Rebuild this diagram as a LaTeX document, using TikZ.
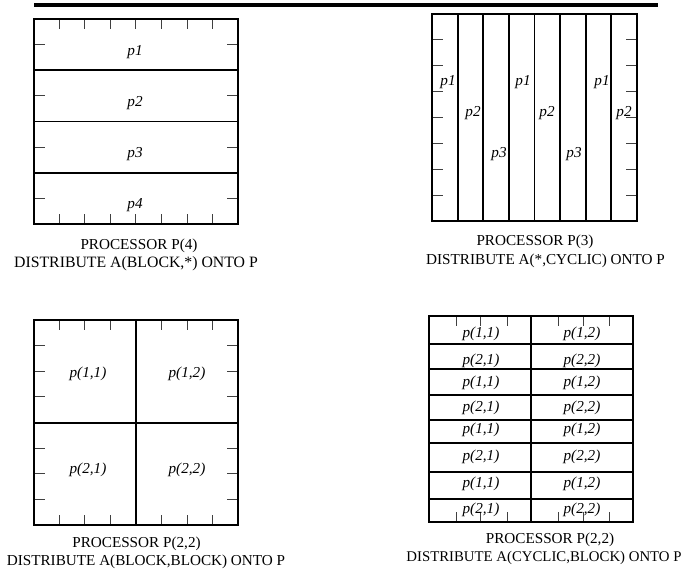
\documentclass[tikz,border=0pt]{standalone}
\usepackage{fontspec}
\setmainfont{Liberation Serif}
\begin{document}
\begin{tikzpicture}[x=1pt,y=-1pt,
  frame/.style={draw=black,line width=2pt},
  thickframe/.style={draw=black,line width=2.6pt},
  divline/.style={draw=black,line width=1.8pt},
  tick/.style={draw=black!75,line width=0.9pt},
  toprule/.style={draw=black,line width=3.2pt},
  lab/.style={font=\fontsize{15.2}{18}\selectfont\itshape,anchor=base,inner sep=0pt},
  captxt/.style={font=\fontsize{15.2}{18}\selectfont,anchor=base,inner sep=0pt}]
\useasboundingbox (0,0) rectangle (682,577);
% top rule
\coordinate (rl) at (34,5);
\coordinate (rr) at (658,5);
\draw[toprule] (rl) -- (rr);

% ===== Panel 1: BLOCK,* =====
\foreach \k in {1,...,7} {
  \draw[tick] ({33.5+\k*25.6},19) -- ++(0,10);
  \draw[tick] ({33.5+\k*25.6},224) -- ++(0,-10);
}
\foreach \j in {0,...,3} {
  \draw[tick] (33.5,{19+(2*\j+1)*25.6}) -- ++(11,0);
  \draw[tick] (238,{19+(2*\j+1)*25.6}) -- ++(-11,0);
}
\foreach \y in {70.2,121.5,172.8} \draw[divline] (33.5,\y) -- (238,\y);
\draw[frame] (33.5,19) rectangle (238,224);
\node[lab] (a1) at (135,56) {p1};
\node[lab] (a2) at (135,107) {p2};
\node[lab] (a3) at (135,158) {p3};
\node[lab] (a4) at (135,209) {p4};
\node[captxt] (ac1) at (139,249) {PROCESSOR P(4)};
\node[captxt,font=\fontsize{15.8}{18}\selectfont] (ac2) at (136,267) {DISTRIBUTE A(BLOCK,*) ONTO P};

% ===== Panel 2: *,CYCLIC =====
\foreach \k in {1,...,7} {
  \draw[tick] (432,{14+\k*25.9}) -- ++(11,0);
  \draw[tick] (637,{14+\k*25.9}) -- ++(-11,0);
  \draw[divline] ({432+\k*25.6},14) -- ({432+\k*25.6},221);
}
\draw[thickframe] (432,14) rectangle (637,221);
\node[lab] (b1) at (448,86) {p1};
\node[lab] (b2) at (473,117) {p2};
\node[lab] (b3) at (499,158) {p3};
\node[lab] (b4) at (523,86) {p1};
\node[lab] (b5) at (547,117) {p2};
\node[lab] (b6) at (574,158) {p3};
\node[lab] (b7) at (602,86) {p1};
\node[lab] (b8) at (624,117) {p2};
\node[captxt] (bc1) at (535,246) {PROCESSOR P(3)};
\node[captxt] (bc2) at (545.5,264) {DISTRIBUTE A(*,CYCLIC) ONTO P};

% ===== Panel 3: BLOCK,BLOCK =====
\foreach \k in {1,2,3,5,6,7} {
  \draw[tick] ({33.5+\k*25.6},320) -- ++(0,10);
  \draw[tick] ({33.5+\k*25.6},525) -- ++(0,-10);
  \draw[tick] (33.5,{320+\k*25.6}) -- ++(11,0);
  \draw[tick] (238,{320+\k*25.6}) -- ++(-11,0);
}
\draw[divline] (136,320) -- (136,525);
\draw[divline] (33.5,423) -- (238,423);
\draw[frame] (33.5,320) rectangle (238,525);
\node[lab] (c1) at (88,377) {p(1,1)};
\node[lab] (c2) at (187,377) {p(1,2)};
\node[lab] (c3) at (88,473) {p(2,1)};
\node[lab] (c4) at (187,473) {p(2,2)};
\node[captxt] (cc1) at (136.5,547) {PROCESSOR P(2,2)};
\node[captxt] (cc2) at (146,565) {DISTRIBUTE A(BLOCK,BLOCK) ONTO P};

% ===== Panel 4: CYCLIC,BLOCK =====
\foreach \x in {456,480,507,558,583,609} {
  \draw[tick] (\x,316) -- ++(0,10);
  \draw[tick] (\x,522) -- ++(0,-10);
}
\foreach \y in {344,369.3,395,420,443.3,471.7,499.3} \draw[divline] (429,\y) -- (633,\y);
\draw[divline] (531,316) -- (531,522);
\draw[frame] (429,316) rectangle (633,522);
\foreach \y/\r [count=\i] in {332/1,359/2,381/1,406/2,428/1,455/2,482/1,508/2} {
  \node[lab] (d\i a) at (481,{\y+5}) {p(\r,1)};
  \node[lab] (d\i b) at (582,{\y+5}) {p(\r,2)};
}
\node[captxt] (dc1) at (550,543) {PROCESSOR P(2,2)};
\node[captxt,font=\fontsize{14.8}{18}\selectfont] (dc2) at (544,561) {DISTRIBUTE A(CYCLIC,BLOCK) ONTO P};
\end{tikzpicture}
\end{document}
